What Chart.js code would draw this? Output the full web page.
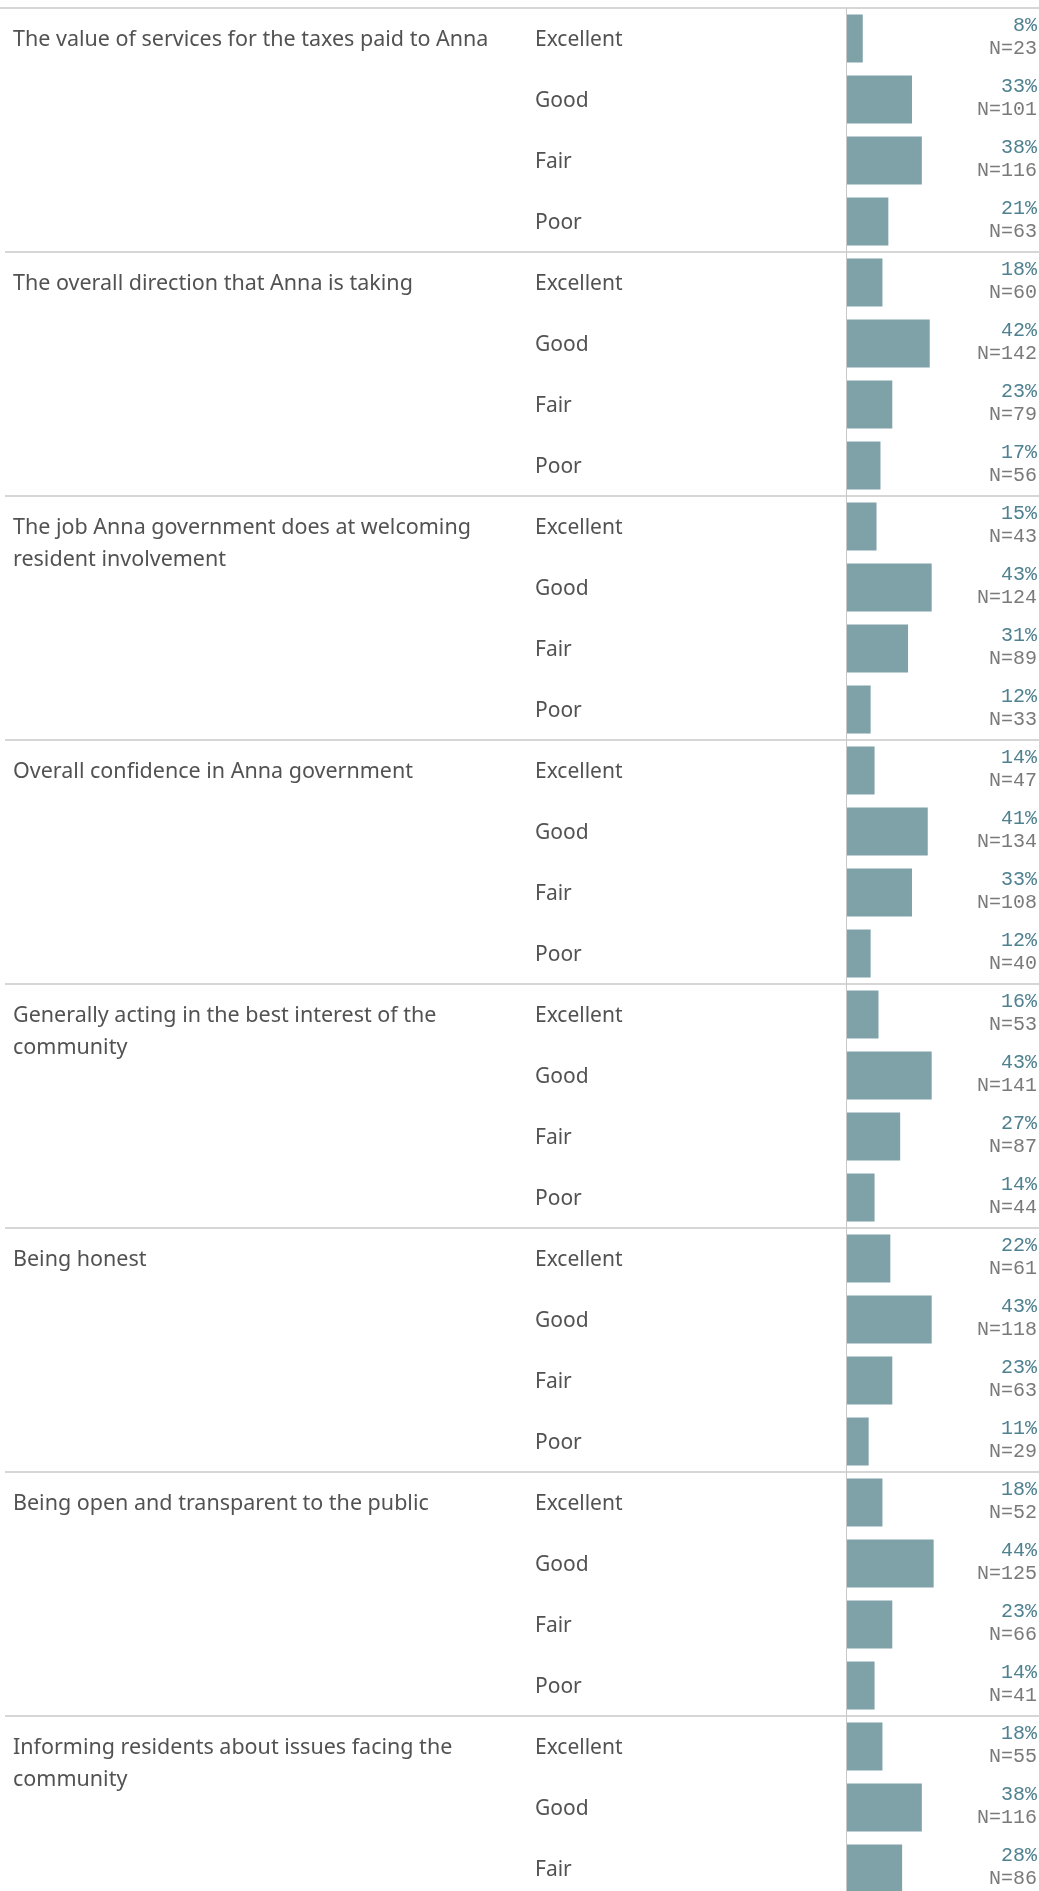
<!DOCTYPE html>
<html>
<head>
<meta charset="utf-8">
<script src="https://cdn.jsdelivr.net/npm/chart.js@4.4.1/dist/chart.umd.min.js"></script>
<style>
html,body{margin:0;padding:0;background:#ffffff;overflow:hidden;}
#wrap{position:relative;width:1039px;height:1900px;}
canvas{display:block;}
</style>
</head>
<body>
<div id="wrap"><canvas id="c" width="1039" height="1900"></canvas></div>
<script>
// ---- data ----
const questions = [
  ["The value of services for the taxes paid to Anna"],
  ["The overall direction that Anna is taking"],
  ["The job Anna government does at welcoming", "resident involvement"],
  ["Overall confidence in Anna government"],
  ["Generally acting in the best interest of the", "community"],
  ["Being honest"],
  ["Being open and transparent to the public"],
  ["Informing residents about issues facing the", "community"]
];
const ratings = ["Excellent", "Good", "Fair", "Poor"];
const pctValues = [
  8, 33, 38, 21,
  18, 42, 23, 17,
  15, 43, 31, 12,
  14, 41, 33, 12,
  16, 43, 27, 14,
  22, 43, 23, 11,
  18, 44, 23, 14,
  18, 38, 28
];
const nValues = [
  23, 101, 116, 63,
  60, 142, 79, 56,
  43, 124, 89, 33,
  47, 134, 108, 40,
  53, 141, 87, 44,
  61, 118, 63, 29,
  52, 125, 66, 41,
  55, 116, 86
];

// ---- build categories (one row per rating within each question) ----
const categories = [];
const rowGroup = [];
for (let g = 0; g < questions.length; g++) {
  for (let r = 0; r < ratings.length; r++) {
    if (categories.length < pctValues.length) {
      categories.push(ratings[r]);
      rowGroup.push(g);
    }
  }
}

const textFont = "'Noto Sans', 'Open Sans', sans-serif";
const monoFont = "'Liberation Mono', 'DejaVu Sans Mono', monospace";

const tablePlugin = {
  id: 'tablePlugin',
  beforeDatasetsDraw(chart) {
    const ctx = chart.ctx;
    const y = chart.scales.y, x = chart.scales.x;
    const W = chart.width;
    ctx.save();
    ctx.strokeStyle = '#d6d6d6';
    ctx.lineWidth = 2;
    const half = (y.getPixelForValue(1) - y.getPixelForValue(0)) / 2;
    ctx.beginPath();
    ctx.moveTo(0, y.top); ctx.lineTo(W, y.top);
    ctx.stroke();
    for (let i = 1; i < categories.length; i++) {
      if (rowGroup[i] !== rowGroup[i - 1]) {
        const yy = Math.round(y.getPixelForValue(i) - half);
        ctx.beginPath();
        ctx.moveTo(5, yy); ctx.lineTo(W, yy);
        ctx.stroke();
      }
    }
    ctx.strokeStyle = '#c8c8c8';
    ctx.lineWidth = 1;
    const x0 = Math.round(x.getPixelForValue(0)) - 0.5;
    ctx.beginPath();
    ctx.moveTo(x0, y.top); ctx.lineTo(x0, chart.height);
    ctx.stroke();
    ctx.restore();
  },
  afterDatasetsDraw(chart) {
    const ctx = chart.ctx;
    const y = chart.scales.y;
    const W = chart.width;
    ctx.save();
    ctx.textBaseline = 'middle';
    ctx.font = "21.5px " + textFont;
    ctx.fillStyle = '#525252';
    ctx.textAlign = 'left';
    for (let i = 0; i < categories.length; i++) {
      if (i === 0 || rowGroup[i] !== rowGroup[i - 1]) {
        const lines = questions[rowGroup[i]];
        const cy = y.getPixelForValue(i) + 1;
        lines.forEach((ln, k) => ctx.fillText(ln, 13, cy + k * 32));
      }
    }
    ctx.font = "21px " + textFont;
    for (let i = 0; i < categories.length; i++) {
      ctx.fillText(categories[i], 535, y.getPixelForValue(i) + 1.5);
    }
    ctx.font = "20px " + monoFont;
    ctx.textAlign = 'right';
    for (let i = 0; i < categories.length; i++) {
      const cy = y.getPixelForValue(i);
      ctx.fillStyle = '#4f8190';
      ctx.fillText(pctValues[i] + '%', W - 2, cy - 13);
      ctx.fillStyle = '#7a7a7a';
      ctx.fillText('N=' + nValues[i], W - 2, cy + 10);
    }
    ctx.restore();
  }
};

new Chart(document.getElementById('c'), {
  type: 'bar',
  data: {
    labels: categories,
    datasets: [{
      data: pctValues,
      backgroundColor: '#7fa1a8',
      borderWidth: 0,
      barPercentage: 1,
      categoryPercentage: 0.787
    }]
  },
  options: {
    indexAxis: 'y',
    responsive: false,
    animation: false,
    events: [],
    layout: { padding: { top: 8, left: 847, right: 0, bottom: 1 } },
    plugins: { legend: { display: false }, tooltip: { enabled: false } },
    scales: {
      x: { display: false, min: 0, max: 97.5 },
      y: { display: false, offset: true, grid: { display: false } }
    }
  },
  plugins: [tablePlugin]
});
</script>
</body>
</html>
